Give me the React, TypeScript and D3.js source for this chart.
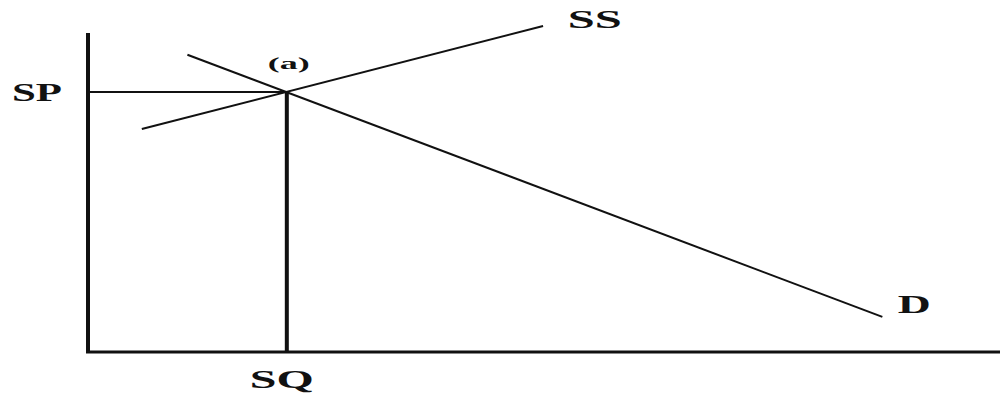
import * as d3 from 'd3';
import { useEffect, useRef } from 'react';

const WIDTH = 1000;
const HEIGHT = 396;

// Quantity / price in chart units (0..100 on both axes)
const DEMAND_POINTS = [
  { q: 10.9, p: 93.2 },
  { q: 87.1, p: 11.0 },
];
const SUPPLY_POINTS = [
  { q: 5.9, p: 69.9 },
  { q: 49.9, p: 102.2 },
];
const EQUILIBRIUM = { q: 21.8, p: 81.5 };
const AXIS_MAX = { q: 100, p: 100 };

const CURVE_LABELS = [
  { text: 'SS', q: 52.6, p: 101.6, size: 25, length: 54 },
  { text: 'D', q: 88.8, p: 12.2, size: 25, length: 33 },
  { text: '(a)', q: 19.7, p: 88.6, size: 16, length: 42 },
];

const INK = '#111';

export default function App() {
  const ref = useRef<SVGSVGElement | null>(null);

  useEffect(() => {
    const svg = d3.select(ref.current);
    svg.selectAll('*').remove();

    const x = d3.scaleLinear().domain([0, AXIS_MAX.q]).range([88, 1000]);
    const y = d3.scaleLinear().domain([0, AXIS_MAX.p]).range([352, 33]);

    svg.append('rect').attr('width', WIDTH).attr('height', HEIGHT).attr('fill', '#fff');

    const line = d3.line<{ q: number; p: number }>()
      .x((d) => x(d.q))
      .y((d) => y(d.p));

    // axes
    svg.append('line')
      .attr('x1', x(0)).attr('x2', x(0))
      .attr('y1', y(AXIS_MAX.p)).attr('y2', y(0) + 1)
      .attr('stroke', INK).attr('stroke-width', 4);
    svg.append('line')
      .attr('x1', x(0) - 2).attr('x2', x(AXIS_MAX.q))
      .attr('y1', y(0)).attr('y2', y(0))
      .attr('stroke', INK).attr('stroke-width', 3);

    // equilibrium guides
    svg.append('line')
      .attr('x1', x(0)).attr('x2', x(EQUILIBRIUM.q))
      .attr('y1', y(EQUILIBRIUM.p)).attr('y2', y(EQUILIBRIUM.p))
      .attr('stroke', INK).attr('stroke-width', 2);
    svg.append('line')
      .attr('x1', x(EQUILIBRIUM.q)).attr('x2', x(EQUILIBRIUM.q))
      .attr('y1', y(EQUILIBRIUM.p)).attr('y2', y(0))
      .attr('stroke', INK).attr('stroke-width', 4);

    // curves
    svg.append('path')
      .datum(DEMAND_POINTS)
      .attr('d', line)
      .attr('fill', 'none')
      .attr('stroke', INK)
      .attr('stroke-width', 2);
    svg.append('path')
      .datum(SUPPLY_POINTS)
      .attr('d', line)
      .attr('fill', 'none')
      .attr('stroke', INK)
      .attr('stroke-width', 2);

    const labelFont = '"Liberation Serif", "Times New Roman", serif';

    svg.selectAll('text.curve-label')
      .data(CURVE_LABELS)
      .enter()
      .append('text')
      .attr('class', 'curve-label')
      .attr('x', (d) => x(d.q))
      .attr('y', (d) => y(d.p))
      .attr('textLength', (d) => d.length)
      .attr('lengthAdjust', 'spacingAndGlyphs')
      .style('font-family', labelFont)
      .style('font-weight', 700)
      .style('font-size', (d) => `${d.size}px`)
      .style('fill', INK)
      .text((d) => d.text);

    // axis labels
    svg.append('text')
      .attr('x', 12)
      .attr('y', y(EQUILIBRIUM.p) + 9)
      .attr('textLength', 50)
      .attr('lengthAdjust', 'spacingAndGlyphs')
      .style('font-family', labelFont)
      .style('font-weight', 700)
      .style('font-size', '25px')
      .style('fill', INK)
      .text('SP');
    svg.append('text')
      .attr('x', x(EQUILIBRIUM.q) - 37)
      .attr('y', y(0) + 36)
      .attr('textLength', 64)
      .attr('lengthAdjust', 'spacingAndGlyphs')
      .style('font-family', labelFont)
      .style('font-weight', 700)
      .style('font-size', '25px')
      .style('fill', INK)
      .text('SQ');
  }, []);

  return (
    <svg
      ref={ref}
      width={WIDTH}
      height={HEIGHT}
      style={{ position: 'absolute', left: 0, top: 0, display: 'block' }}
      role="img"
      aria-label="Supply and demand equilibrium"
    />
  );
}
